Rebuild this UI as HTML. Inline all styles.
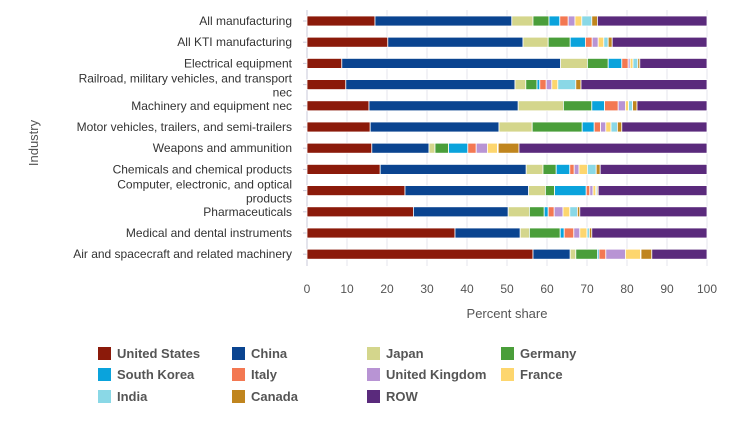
<!DOCTYPE html>
<html><head><meta charset="utf-8"><style>
body{margin:0;background:#fff;}
svg text{font-family:"Liberation Sans",sans-serif;}
</style></head><body>
<svg id="chart" width="737" height="417" xmlns="http://www.w3.org/2000/svg"></svg>
<script>
const categories=["All manufacturing","All KTI manufacturing","Electrical equipment","Railroad, military vehicles, and transport|nec","Machinery and equipment nec","Motor vehicles, trailers, and semi-trailers","Weapons and ammunition","Chemicals and chemical products","Computer, electronic, and optical|products","Pharmaceuticals","Medical and dental instruments","Air and spacecraft and related machinery"];
const seriesNames=["United States","China","Japan","Germany","South Korea","Italy","United Kingdom","France","India","Canada","ROW"];
const seriesColors=["#8b1a0a","#0a4490","#d4d68c","#4a9e3a","#0aa3dc","#f37852","#b894d4","#fdd66e","#8ad8e6","#c0851e","#5a2a7c"];
const usValues=[17.0,20.2,8.7,9.7,15.5,15.8,16.2,18.3,24.5,26.6,37.0,56.5];
const chinaValues=[34.2,33.8,54.7,42.3,37.3,32.2,14.3,36.5,30.9,23.7,16.3,9.3];
const japanValues=[5.3,6.3,6.7,2.7,11.3,8.3,1.5,4.2,4.2,5.3,2.3,1.4];
const germanyValues=[4.0,5.5,5.2,2.8,7.1,12.5,3.4,3.3,2.3,3.7,7.7,5.4];
const koreaValues=[2.7,3.8,3.4,0.7,3.2,3.0,4.8,3.4,7.9,1.0,1.0,0.4];
const italyValues=[2.1,1.7,1.6,1.6,3.4,1.6,2.1,1.1,0.9,1.5,2.4,1.7];
const ukValues=[1.7,1.5,0.5,1.4,1.8,1.3,2.8,1.2,0.8,2.2,1.5,4.9];
const franceValues=[1.7,1.4,0.7,1.5,0.8,1.3,2.5,2.1,0.7,1.7,1.8,3.8];
const indiaValues=[2.5,1.1,1.2,4.5,1.0,1.6,0.2,2.2,0.3,1.9,0.6,0.1];
const canadaValues=[1.4,1.0,0.5,1.3,1.1,1.1,5.2,1.0,0.3,0.6,0.6,2.7];
const rowValues=[27.4,23.7,16.8,31.5,17.5,21.3,47.0,26.7,27.2,31.8,28.8,13.8];
const xTicks=[0,10,20,30,40,50,60,70,80,90,100];

const svg=document.getElementById('chart');
const NS="http://www.w3.org/2000/svg";
const allSeries=[usValues,chinaValues,japanValues,germanyValues,koreaValues,italyValues,ukValues,franceValues,indiaValues,canadaValues,rowValues];
const x0=307,x1=707,yTop=10,rowH=21.2,barH=10;
const xs=v=>x0+(x1-x0)*v/100;
const yc=i=>yTop+11+i*rowH;
function mk(tag,attrs,parent){const e=document.createElementNS(NS,tag);for(const k in attrs)e.setAttribute(k,attrs[k]);(parent||svg).appendChild(e);return e;}

xTicks.forEach(t=>{
  const l=mk('line',{x1:xs(t),x2:xs(t),y1:yTop,y2:266,stroke:'#e4e4ee','stroke-width':1});
  
  
  const tx=mk('text',{x:xs(t),y:293,'text-anchor':'middle','font-size':12,fill:'#555'});
  tx.textContent=t;
  
  
});
const yl=mk('line',{x1:x0,x2:x0,y1:yTop,y2:266,stroke:'#c8c8d8'});



categories.forEach((c,i)=>{
  const parts=c.split('|');
  const tx=mk('text',{x:292,'text-anchor':'end','font-size':12,fill:'#333'});
  
  
  parts.forEach((p,j)=>{
    const ts=mk('tspan',{x:292,y:yc(i)+4+(parts.length>1?(j===0?-6:8):0)},tx);
    ts.textContent=p;
  });
  const tk=mk('line',{x1:x0-4,x2:x0,y1:yc(i),y2:yc(i),stroke:'#c8c8d8'});
  
  
  let acc=0;
  allSeries.forEach((s,k)=>{
    const v=s[i];
    const r=mk('rect',{x:xs(acc),y:yc(i)-barH/2,width:Math.max(0,xs(acc+v)-xs(acc)),height:barH,fill:seriesColors[k],stroke:'#fff','stroke-width':0.8});
    
    
    acc+=v;
  });
});

const xt=mk('text',{x:507,y:318,'text-anchor':'middle','font-size':13,fill:'#555'});
xt.textContent='Percent share';


const ytt=mk('text',{x:0,y:0,transform:'translate(38,143) rotate(-90)','text-anchor':'middle','font-size':13,fill:'#555'});
ytt.textContent='Industry';



const colX=[98,232,367,501],rowY=[353,374,396];
seriesNames.forEach((n,k)=>{
  const cx=colX[k%4],cy=rowY[Math.floor(k/4)];
  const g=mk('g',{});
  
  
  mk('rect',{x:cx,y:cy-6,width:13,height:13,fill:seriesColors[k]},g);
  const t=mk('text',{x:cx+19,y:cy+5,'font-size':13,'font-weight':'bold',fill:'#555'},g);
  t.textContent=n;
});
</script>
</body></html>
